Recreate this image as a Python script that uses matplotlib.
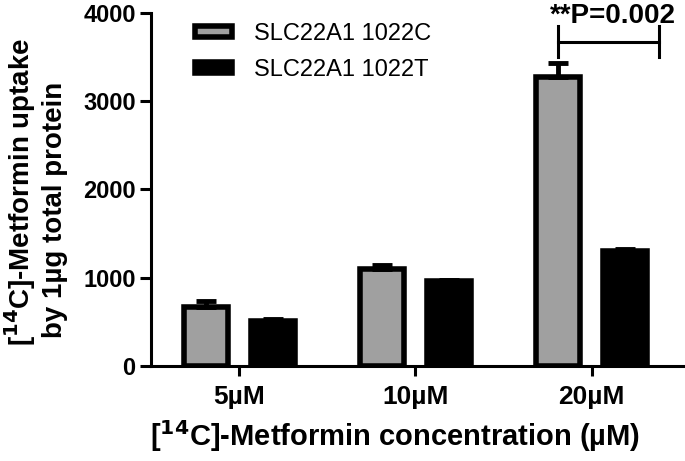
import numpy as np
import matplotlib
matplotlib.use("Agg")
import matplotlib.pyplot as plt

plt.rcParams['font.family'] = ['Liberation Sans', 'DejaVu Sans']

concentrations = ["5µM", "10µM", "20µM"]
series_names = ["SLC22A1 1022C", "SLC22A1 1022T"]
uptake_c = [670, 1102, 3278]
err_c = [70, 45, 160]
uptake_t = [515, 966, 1301]
err_t = [12, 14, 25]
p_label = "**P=0.002"

fig = plt.figure(figsize=(6.85, 4.61), dpi=100)
ax = fig.add_axes([151 / 685, 1 - 366 / 461, 534 / 685, 353 / 461])

x = np.arange(len(concentrations))
w = 0.25
off = 0.19

ax.bar(x - off, uptake_c, w, color="#a0a0a0", edgecolor="black", linewidth=4,
       label=series_names[0], zorder=2)
ax.bar(x + off, uptake_t, w, color="black", edgecolor="black", linewidth=4,
       label=series_names[1], zorder=2)

# upper error bars only
ax.errorbar(x - off, uptake_c, yerr=[np.zeros(3), err_c], fmt="none", ecolor="black",
            elinewidth=3.5, capsize=7.5, capthick=3.5, zorder=3)
ax.errorbar(x + off, uptake_t, yerr=[np.zeros(3), err_t], fmt="none", ecolor="black",
            elinewidth=3.5, capsize=7.5, capthick=3.5, zorder=3)

ax.set_xlim(-0.5, 2.53)
ax.set_ylim(0, 4000)
ax.set_yticks([0, 1000, 2000, 3000, 4000])
ax.set_xticks(x)
ax.set_xticklabels(concentrations)

for s in ["top", "right"]:
    ax.spines[s].set_visible(False)
for s in ["left", "bottom"]:
    ax.spines[s].set_linewidth(2.2)

ax.tick_params(axis="y", length=8, width=2.2, pad=3, labelsize=17)
ax.tick_params(axis="x", length=7, width=2.2, pad=7, labelsize=19)
for lab in ax.get_xticklabels() + ax.get_yticklabels():
    lab.set_fontweight("bold")

fig.text(395.5 / 685, 1 - 446 / 461, "[$\\mathbf{^{14}}$C]-Metformin concentration (µM)",
         fontsize=21, fontweight="bold", ha="center", va="baseline")
fig.text(20 / 685, 1 - 192 / 461, "[$\\mathbf{^{14}}$C]-Metformin uptake", rotation=90,
         fontsize=20, fontweight="bold", ha="center", va="center")
fig.text(55 / 685, 1 - 210 / 461, "by 1µg total protein", rotation=90,
         fontsize=20, fontweight="bold", ha="center", va="center")

# significance bracket
y_br, y_lo, y_hi = 3674, 3503, 3852
x_l, x_r = 2 - off, 2.38
ax.plot([x_l, x_r], [y_br, y_br], color="black", lw=2.2, clip_on=False)
ax.plot([x_l, x_l], [y_lo, y_hi], color="black", lw=2.2, clip_on=False)
ax.plot([x_r, x_r], [y_lo, y_hi], color="black", lw=2.2, clip_on=False)
ax.text(2.12, 3886, p_label, fontsize=20, fontweight="bold", ha="center",
        va="baseline", clip_on=False)

ax.legend(loc="upper left", bbox_to_anchor=(0.082, 0.973), frameon=False,
          fontsize=17, handlelength=1.57, handleheight=0.34,
          handletextpad=0.95, labelspacing=0.6, borderpad=0, borderaxespad=0)

fig.savefig("out.png", dpi=100)
